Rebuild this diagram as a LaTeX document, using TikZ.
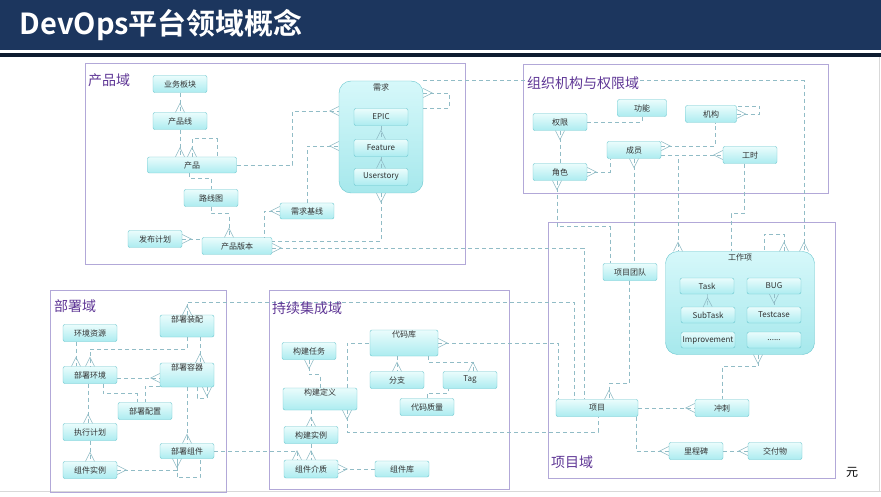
\documentclass[tikz,border=0pt]{standalone}
\usepackage{fontspec}
\setmainfont{Noto Sans CJK SC}[BoldFont={* Bold}]
\usetikzlibrary{positioning, arrows.meta}

\definecolor{navy}{RGB}{28,54,94}
\definecolor{navydark}{RGB}{14,28,48}
\definecolor{boxline}{RGB}{105,198,206}
\definecolor{boxtop}{RGB}{234,252,252}
\definecolor{boxbot}{RGB}{172,236,240}
\definecolor{grouptop}{RGB}{214,248,250}
\definecolor{groupbot}{RGB}{166,232,236}
\definecolor{linkc}{RGB}{145,188,198}
\definecolor{framec}{RGB}{178,168,216}
\definecolor{labelc}{RGB}{95,55,150}
\definecolor{txt}{RGB}{50,50,50}

% crow's foot end
\pgfdeclarearrow{
  name = Crow,
  defaults = {length = 9pt, width = 9pt},
  parameters = {\the\pgfarrowlength,\the\pgfarrowwidth},
  setup code = {
    \pgfarrowssettipend{0pt}
    \pgfarrowssetlineend{0pt}
    \pgfarrowssetbackend{-\pgfarrowlength}
    \pgfarrowshullpoint{0pt}{.5\pgfarrowwidth}
    \pgfarrowshullpoint{0pt}{-.5\pgfarrowwidth}
    \pgfarrowshullpoint{-\pgfarrowlength}{0pt}
    \pgfarrowssavethe\pgfarrowlength
    \pgfarrowssavethe\pgfarrowwidth
  },
  drawing code = {
    \pgfsetdash{}{0pt}
    \pgfpathmoveto{\pgfqpoint{0pt}{.5\pgfarrowwidth}}
    \pgfpathlineto{\pgfqpoint{-\pgfarrowlength}{0pt}}
    \pgfpathlineto{\pgfqpoint{0pt}{-.5\pgfarrowwidth}}
    \pgfusepathqstroke
  }
}

\begin{document}
\begin{tikzpicture}[
    x=1pt, y=-1pt,
    >=Crow,
    box/.style={draw=boxline, rectangle, rounded corners=2pt, top color=boxtop, bottom color=boxbot, minimum width=54pt, minimum height=17pt, inner sep=1pt, text=txt, font=\fontsize{8}{9}\selectfont},
    tallbox/.style={box, text height=6pt, text depth=#1},
    group/.style={draw=boxline, rectangle, rounded corners=12pt, top color=grouptop, bottom color=groupbot},
    grouptitle/.style={text=txt, font=\fontsize{8}{9}\selectfont, inner sep=1pt},
    link/.style={draw=linkc, line width=0.6pt, dash pattern=on 4pt off 3pt},
    domframe/.style={draw=framec, line width=0.8pt},
    domlabel/.style={text=labelc, font=\fontsize{14}{16}\selectfont, anchor=west, inner sep=1pt}
]
    \useasboundingbox (0,0) rectangle (881,497);
    \fill[white] (0,0) rectangle (881,497);

    % Header
    \fill[navy] (0,0) rectangle (881,50);
    \fill[navydark] (0,53) rectangle (881,57);
    \node[anchor=west, text=white, font=\fontsize{29}{32}\selectfont\bfseries] (heading) at (16,25) {DevOps平台领域概念};
    \draw[black!15] (0,491) -- (881,491);
    \draw[black!15] (879,57) -- (879,491);
    \node[font=\fontsize{12}{14}\selectfont] (yuan) at (852,472) {元};

    % Domains
    \draw[domframe] (85,63) rectangle (465,264);
    \draw[domframe] (523,64) rectangle (828,193);
    \draw[domframe] (548,222) rectangle (835,478);
    \draw[domframe] (50,290) rectangle (226,492);
    \draw[domframe] (269,290) rectangle (509,489);

    % Nodes: product domain
    \node[box] (bizblock) at (180,84) {业务板块};
    \node[box] (prodline) at (180,121) {产品线};
    \node[box, minimum width=89pt, minimum height=16pt] (product) at (192,165) {产品};
    \node[box] (roadmap) at (211,198) {路线图};
    \node[box, minimum height=16pt] (reqbase) at (307,211) {需求基线};
    \node[box] (relplan) at (155,239) {发布计划};
    \node[box, minimum width=70pt] (version) at (237,246) {产品版本};
    \node[group, minimum width=84pt, minimum height=112pt] (req) at (381,137) {};
    \node[grouptitle, below=2pt of req.north] (reqtitle) {需求};
    \node[box] (epic) at (381,117) {EPIC};
    \node[box] (feature) at (381,148) {Feature};
    \node[box] (story) at (381,177) {Userstory};

    % Nodes: organisation and permission domain
    \node[box] (perm) at (560,122) {权限};
    \node[box, minimum width=49pt] (func) at (642,108) {功能};
    \node[box, minimum width=51pt] (org) at (711,114) {机构};
    \node[box] (member) at (634,150) {成员};
    \node[box] (hours) at (750,155) {工时};
    \node[box] (role) at (560,172) {角色};

    % Nodes: project domain
    \node[box] (team) at (630,272) {项目团队};
    \node[group, minimum width=149pt, minimum height=103pt] (workitem) at (740,303) {};
    \node[grouptitle, below=1pt of workitem.north] (wititle) {工作项};
    \node[box, minimum height=16pt] (task) at (707,286) {Task};
    \node[box, minimum height=16pt] (bug) at (774,286) {BUG};
    \node[box, minimum height=16pt] (subtask) at (708,315) {SubTask};
    \node[box, minimum height=16pt] (testcase) at (774,315) {Testcase};
    \node[box, minimum height=16pt] (improve) at (708,340) {Improvement};
    \node[box, minimum height=16pt] (etc) at (774,340) {......};
    \node[box, minimum width=82pt] (project) at (597,408) {项目};
    \node[box] (sprint) at (722,408) {冲刺};
    \node[box] (milestone) at (696,451) {里程碑};
    \node[box] (deliver) at (775,451) {交付物};

    % Nodes: continuous integration domain
    \node[box] (buildtask) at (309,351) {构建任务};
    \node[tallbox=16.3pt, minimum width=68pt, minimum height=26pt] (repo) at (404,343) {代码库};
    \node[box] (branch) at (397,380) {分支};
    \node[box] (tag) at (470,380) {Tag};
    \node[box] (quality) at (427,407) {代码质量};
    \node[tallbox=12.3pt, minimum width=74pt, minimum height=22pt] (builddef) at (320,399) {构建定义};
    \node[box] (buildinst) at (311,435) {构建实例};
    \node[box, minimum height=18pt] (artifact) at (311,469) {组件介质};
    \node[box, minimum height=16pt] (complib) at (402,469) {组件库};

    % Nodes: deployment domain
    \node[tallbox=12.3pt, minimum height=22pt] (asm) at (187,326) {部署装配};
    \node[box] (envres) at (90,333) {环境资源};
    \node[box] (deployenv) at (90,375) {部署环境};
    \node[tallbox=14.3pt, minimum height=24pt] (container) at (187,375) {部署容器};
    \node[box] (deploycfg) at (145,411) {部署配置};
    \node[box] (execplan) at (90,432) {执行计划};
    \node[box, minimum height=15pt] (deploycomp) at (187,451) {部署组件};
    \node[box] (compinst) at (90,470) {组件实例};

    % Connections: product domain
    \draw[link, ->] (bizblock) -- (prodline);
    \draw[link, ->] (prodline.south) -- (prodline.south |- product.north);
    \draw[link, <-] (product.north) -- ++(0,-18) -| ([xshift=25pt]product.north);
    \draw[link, ->] (product.east) -- ++(56,0) |- ([yshift=26pt]req.west);
    \draw[link, ->] (reqbase.north) |- ([yshift=-9pt]req.west);
    \draw[link] ([xshift=-3pt]product.south) -- ++(0,5) -| (roadmap.north);
    \draw[link, ->] (roadmap.south) -- ++(0,7) -| ([xshift=-8pt]version.north);
    \draw[link, <-] (relplan.east) -- (relplan.east -| version.west);
    \draw[link, <-] (reqbase.west) -| ([xshift=27pt]version.north);
    \draw[link, <-] (req.south) |- ([yshift=5pt]version.east);
    \draw[link, <-] ([yshift=44pt]req.east) -- ++(26,0) |- ([yshift=29pt]req.east);
    \draw[link, ->] (epic) -- (feature);
    \draw[link, ->] (feature) -- (story);

    % Connections: organisation and permission domain
    \draw[link] (perm.east) -| (func.south);
    \draw[link, <-] (perm) -- (role);
    \draw[link, <-] (role.east) -| ([xshift=-24pt]member.south);
    \draw[link, <-] ([yshift=4pt]member.east) -| ([xshift=4pt]org.south);
    \draw[link, <-] (org.east) -- ++(23,0) |- ([yshift=8pt]org.east);
    \draw[link, ->] ([yshift=-5pt]member.east) -- (hours.west);
    \draw[link, ->] ([yshift=-5pt]member.east) -| ([xshift=-62pt]workitem.north);
    \draw[link] ([xshift=-6pt]hours.south) -- ++(0,50) -| ([xshift=-9pt]workitem.north);
    \draw[link, <-] ([xshift=-3pt]role.south) -- ++(0,46) -| ([xshift=-20pt]team.north);
    \draw[link, <-] (member.south) -- (member.south |- team.north);

    % Connections: project domain
    \draw[link, ->] (req.north east) -| ([xshift=64pt]workitem.north);
    \draw[link, <-] ([xshift=44pt]workitem.north) -- ++(0,-17) -| ([xshift=24pt]workitem.north);
    \draw[link, ->] (task) -- (subtask);
    \draw[link, <-] (bug) -- (testcase);
    \draw[link, <-] ([xshift=18pt]workitem.south) -- ++(0,12) -| (sprint.north);
    \draw[link, ->] ([xshift=-1pt]team.south) -- ++(0,103) -| ([xshift=12pt]project.north);
    \draw[link, ->] (project) -- (sprint);
    \draw[link, ->] ([xshift=39pt]project.south) |- (milestone.west);
    \draw[link, ->] (milestone) -- (deliver);
    \draw[link, <-] ([yshift=-2pt]version.east) -| ([xshift=-13pt]project.north);
    \draw[link, <-] (asm.north) -- ++(0,-13) -| ([xshift=-23pt]project.north);
    \draw[link, <-] (repo.east) -| ([xshift=-39pt]project.north);
    \draw[link, <-] ([xshift=27pt]builddef.south) -- ++(0,22) -| ([xshift=1pt]project.south);

    % Connections: continuous integration domain
    \draw[link, <-] (buildtask.south) -- ++(0,15) -| (builddef.north);
    \draw[link] ([xshift=27pt]builddef.north) |- (repo.west);
    \draw[link, ->] ([xshift=-7pt]repo.south) -- (branch.north);
    \draw[link, ->] ([xshift=24pt]repo.south) -- ++(0,6) -| ([xshift=3pt]tag.north);
    \draw[link] (quality.north) -- ++(0,-5) -| ([xshift=-22pt]tag.south);
    \draw[link, ->] (builddef.south -| buildinst.north) -- (buildinst.north);
    \draw[link, ->] (buildinst) -- (artifact);
    \draw[link, ->] (complib) -- (artifact);
    \draw[link, ->] (deploycomp.east) -| ([xshift=-14pt]artifact.north);

    % Connections: deployment domain
    \draw[link, ->] ([xshift=-14pt]envres.south) -- ([xshift=-14pt]deployenv.north);
    \draw[link, ->] (asm.south) -- ++(0,12) -| (deployenv.north);
    \draw[link, ->] ([xshift=13pt]asm.south) -- ([xshift=13pt]container.north);
    \draw[link, ->] ([yshift=-3pt]deployenv.east) -- ([yshift=-3pt]container.west);
    \draw[link] ([xshift=13pt]deployenv.south) -- ++(0,10) -| ([xshift=-8pt]deploycfg.north);
    \draw[link] ([yshift=-11pt]container.west) -| (deploycfg.north);
    \draw[link, <-] ([xshift=20pt]container.south) -- ++(0,11) -| ([xshift=10pt]container.south);
    \draw[link, ->] ([xshift=-2pt]deployenv.south) -- ([xshift=-2pt]execplan.north);
    \draw[link, ->] (container.south) -- (deploycomp.north);
    \draw[link, ->] (execplan) -- (compinst);
    \draw[link, <-] (compinst.east) -| ([xshift=-10pt]deploycomp.south);
    \draw[link, <-] ([xshift=-10pt]deploycomp.south) -- ++(0,19) -| ([xshift=13pt]deploycomp.south);

    % Domain labels
    \node[domlabel] (proddom) at (87,80) {产品域};
    \node[domlabel, fill=white] (orgdom) at (526,83) {组织机构与权限域};
    \node[domlabel] (projdom) at (550,462) {项目域};
    \node[domlabel] (deploydom) at (53,306) {部署域};
    \node[domlabel] (cidom) at (271,308) {持续集成域};

\end{tikzpicture}
\end{document}
